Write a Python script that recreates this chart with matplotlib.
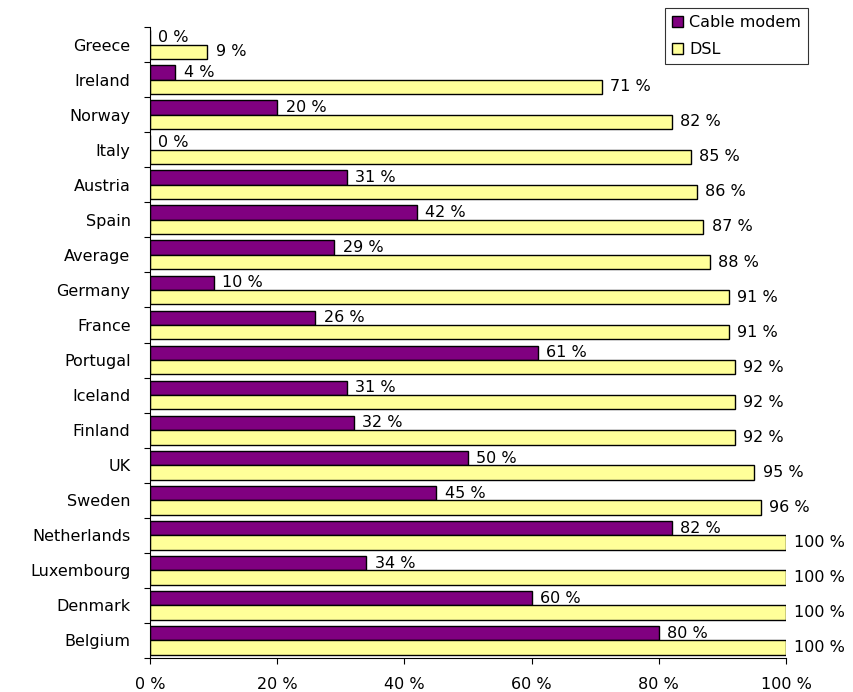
import matplotlib
matplotlib.use("Agg")
import matplotlib.pyplot as plt
import numpy as np

countries = ["Greece", "Ireland", "Norway", "Italy", "Austria", "Spain", "Average",
             "Germany", "France", "Portugal", "Iceland", "Finland", "UK", "Sweden",
             "Netherlands", "Luxembourg", "Denmark", "Belgium"]
cable = [0, 4, 20, 0, 31, 42, 29, 10, 26, 61, 31, 32, 50, 45, 82, 34, 60, 80]
dsl = [9, 71, 82, 85, 86, 87, 88, 91, 91, 92, 92, 92, 95, 96, 100, 100, 100, 100]
xticks = [0, 20, 40, 60, 80, 100]
series_names = ["Cable modem", "DSL"]
colors = ["#800080", "#FFFF99"]

plt.rcParams['font.family'] = ['DejaVu Sans']
fs = 11.5

fig = plt.figure(figsize=(8.54, 6.92), dpi=100)
ax = fig.add_axes([150/854, 1-658/692, (786-150)/854, (658-27)/692])

y = np.arange(len(countries))
h = 0.41
off = 0.205
b1 = ax.barh(y - off, cable, height=h, color=colors[0], edgecolor="black", linewidth=1.0, label=series_names[0])
b2 = ax.barh(y + off, dsl, height=h, color=colors[1], edgecolor="black", linewidth=1.0, label=series_names[1])

for yi, v in zip(y, cable):
    ax.annotate(f"{v} %", (v, yi - off), xytext=(6, 0), textcoords="offset points",
                va="center", ha="left", fontsize=fs)
for yi, v in zip(y, dsl):
    ax.annotate(f"{v} %", (v, yi + off), xytext=(6, 0), textcoords="offset points",
                va="center", ha="left", fontsize=fs)

ax.set_xlim(0, 100)
ax.set_ylim(len(countries) - 0.5, -0.5)
ax.set_xticks(xticks)
ax.set_xticklabels([f"{t} %" for t in xticks], fontsize=fs)
ax.tick_params(axis="x", length=4, pad=10, width=0.8)

ax.set_yticks(np.arange(len(countries) + 1) - 0.5)
ax.set_yticklabels([])
ax.set_yticks(y, minor=True)
ax.set_yticklabels(countries, minor=True, fontsize=fs)
ax.tick_params(axis="y", which="major", length=4, width=0.8)
ax.tick_params(axis="y", which="minor", length=0, pad=14)

for s in ["top", "right"]:
    ax.spines[s].set_visible(False)
ax.spines["left"].set_linewidth(0.8)
ax.spines["bottom"].set_linewidth(0.8)

leg = fig.legend(handles=[b1, b2], loc="upper left", bbox_to_anchor=(665/854, 1-8/692),
                 frameon=True, fancybox=False, shadow=False, fontsize=fs,
                 handlelength=0.65, handleheight=0.65, handletextpad=0.4,
                 borderpad=0.45, labelspacing=0.75, borderaxespad=0)
leg.get_frame().set_edgecolor("black")
leg.get_frame().set_linewidth(0.8)

fig.savefig("out.png", dpi=100)
